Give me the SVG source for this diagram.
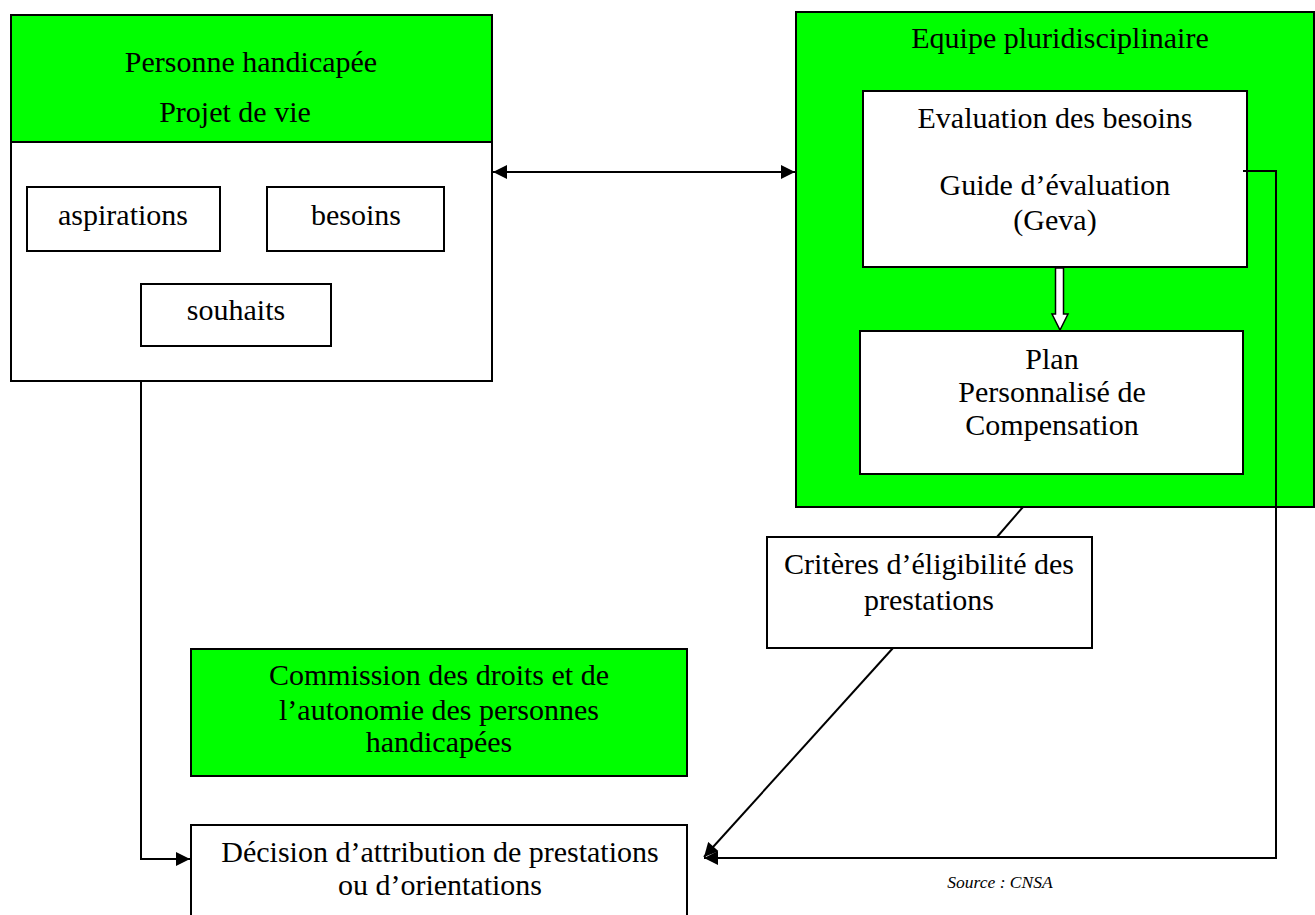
<svg xmlns="http://www.w3.org/2000/svg" width="1315" height="915" viewBox="0 0 1315 915">
<style>
text{font-family:"Liberation Serif","Times New Roman",serif;font-size:30px;fill:#000;text-anchor:middle}
.g{fill:#00ff00;stroke:#000;stroke-width:2}
.w{fill:#fff;stroke:#000;stroke-width:2}
.c{fill:none;stroke:#000;stroke-width:2}
.src{font-style:italic;font-size:17.5px}
</style>
<defs>
<marker id="ahb" viewBox="0 0 10 10" refX="10" refY="5" markerWidth="16" markerHeight="14" markerUnits="userSpaceOnUse" orient="auto-start-reverse">
<path d="M0,0 L10,5 L0,10 z" fill="#000"/>
</marker>
</defs>
<g id="personne">
<rect class="w" x="11" y="142" width="481" height="239"/>
<rect class="g" x="11" y="15" width="481" height="127"/>
<text x="251" y="72">Personne handicapée</text>
<text x="235" y="122">Projet de vie</text>
</g>
<g id="aspirations"><rect class="w" x="27" y="187" width="193" height="64"/><text x="123" y="225">aspirations</text></g>
<g id="besoins"><rect class="w" x="267" y="187" width="177" height="64"/><text x="356" y="225">besoins</text></g>
<g id="souhaits"><rect class="w" x="141" y="284" width="190" height="62"/><text x="236" y="320">souhaits</text></g>
<g id="equipe">
<rect class="g" x="796" y="12" width="518" height="495"/>
<text x="1060" y="48">Equipe pluridisciplinaire</text>
</g>
<g id="evaluation">
<rect class="w" x="863" y="91" width="384" height="176"/>
<text x="1055" y="128">Evaluation des besoins</text>
<text x="1055" y="195">Guide d’évaluation</text>
<text x="1055" y="230">(Geva)</text>
</g>
<g id="plan">
<rect class="w" x="860" y="331" width="383" height="143"/>
<text x="1052" y="369">Plan</text>
<text x="1052" y="402">Personnalisé de</text>
<text x="1052" y="435">Compensation</text>
</g>
<g id="criteres">
<rect class="w" x="767" y="537" width="325" height="111"/>
<text x="929" y="574">Critères d’éligibilité des</text>
<text x="929" y="610">prestations</text>
</g>
<g id="commission">
<rect class="g" x="191" y="649" width="496" height="127"/>
<text x="439" y="685">Commission des droits et de</text>
<text x="439" y="720">l’autonomie des personnes</text>
<text x="439" y="752">handicapées</text>
</g>
<g id="decision">
<rect class="w" x="191" y="825" width="496" height="100"/>
<text x="440" y="862">Décision d’attribution de prestations</text>
<text x="440" y="895">ou d’orientations</text>
</g>
<g id="connectors">
<line class="c" x1="493" y1="172" x2="795" y2="172" marker-start="url(#ahb)" marker-end="url(#ahb)"/>
<path d="M1055.5,268 V314 H1052 L1060,330 L1068,314 H1063.5 V268 Z" fill="#fff" stroke="#000" stroke-width="1.5"/>
<path class="c" d="M141,381 V859 H190" marker-end="url(#ahb)"/>
<path class="c" d="M1243,171 H1276 V858 H704" marker-end="url(#ahb)"/>
<line class="c" x1="1023" y1="507" x2="997" y2="537"/>
<line class="c" x1="893" y1="648" x2="704" y2="857" marker-end="url(#ahb)"/>
</g>
<text class="src" x="1000" y="888">Source : CNSA</text>
</svg>
